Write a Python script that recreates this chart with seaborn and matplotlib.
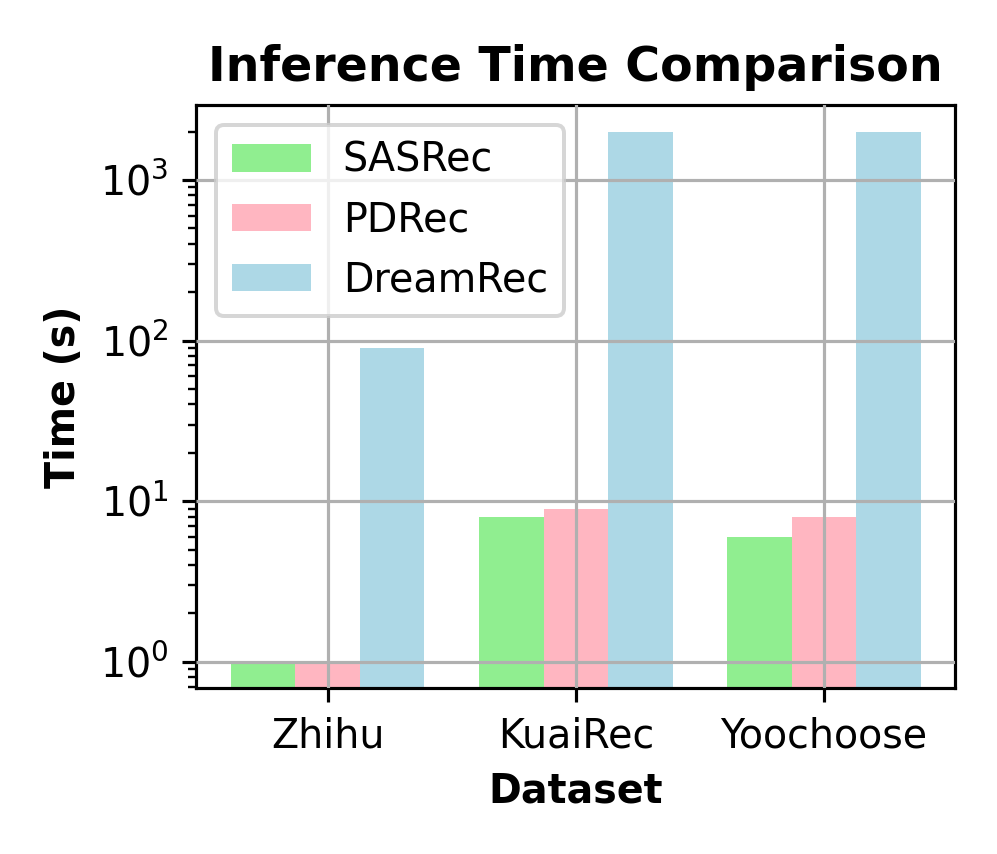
import matplotlib
matplotlib.use("Agg")
import matplotlib.pyplot as plt
import seaborn as sns
import pandas as pd

datasets = ["Zhihu", "KuaiRec", "Yoochoose"]
methods = ["SASRec", "PDRec", "DreamRec"]
sasrec = [1, 8, 6]
pdrec = [1, 9, 8]
dreamrec = [90, 2000, 2000]
colors = ["lightgreen", "lightpink", "lightblue"]

rows = []
for m, vals in zip(methods, [sasrec, pdrec, dreamrec]):
    for d, v in zip(datasets, vals):
        rows.append({"Dataset": d, "Method": m, "Time": v})
df = pd.DataFrame(rows)

DPI = 285
plt.rcParams["font.family"] = ["DejaVu Sans"]
fig, ax = plt.subplots(figsize=(997 / DPI, 854 / DPI), dpi=DPI)
fig.subplots_adjust(left=0.197, right=0.958, top=0.877, bottom=0.194)

sns.barplot(data=df, x="Dataset", y="Time", hue="Method", order=datasets,
            hue_order=methods, palette=colors, width=0.78, saturation=1,
            errorbar=None, ax=ax, log_scale=(False, True))
ax.set_yscale("log")
ax.set_xlim(-0.529, 2.529)
ax.set_ylim(0.684, 2924)
ax.set_axisbelow(False)
ax.grid(True, which="major", color="#b0b0b0", linewidth=0.8)
ax.set_title("Inference Time Comparison", fontsize=12, fontweight="bold")
ax.set_xlabel("Dataset", fontsize=10, fontweight="bold")
ax.set_ylabel("Time (s)", fontsize=10, fontweight="bold")
ax.tick_params(labelsize=10)
ax.legend(loc="upper left", fontsize=10, title=None)
fig.savefig("out.png", dpi=DPI)
